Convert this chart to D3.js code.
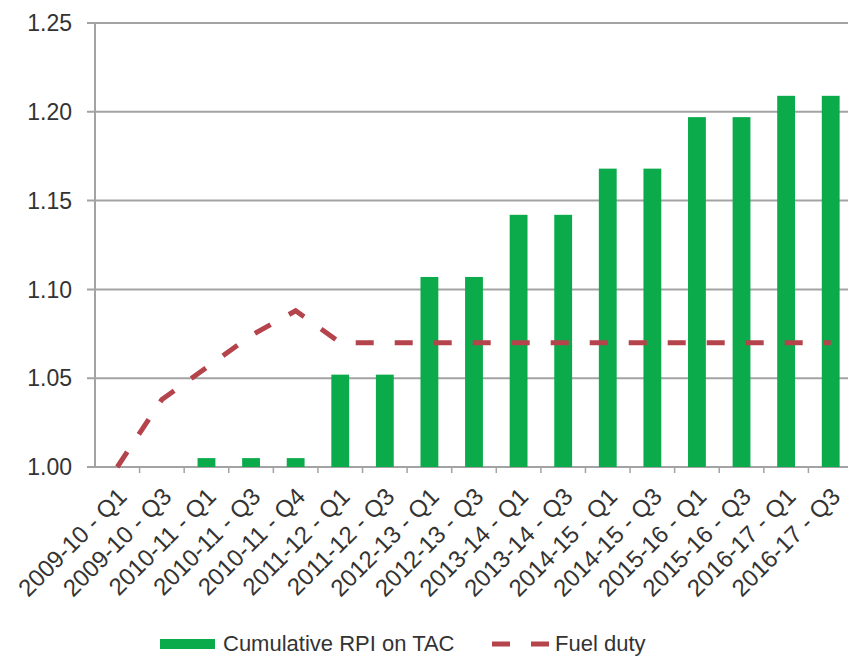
<!DOCTYPE html>
<html>
<head>
<meta charset="utf-8">
<script src="https://cdn.jsdelivr.net/npm/d3@7"></script>
<style>
  body { margin: 0; background: #fff; }
  svg { display: block; font-family: "Liberation Sans", Arial, sans-serif; }
</style>
</head>
<body>
<div id="chart"></div>
<script>
// quarters on the x axis
const quarters = ["2009-10 - Q1", "2009-10 - Q3", "2010-11 - Q1", "2010-11 - Q3", "2010-11 - Q4",
                  "2011-12 - Q1", "2011-12 - Q3", "2012-13 - Q1", "2012-13 - Q3", "2013-14 - Q1",
                  "2013-14 - Q3", "2014-15 - Q1", "2014-15 - Q3", "2015-16 - Q1", "2015-16 - Q3",
                  "2016-17 - Q1", "2016-17 - Q3"];
const rpiTac = [1.000, 1.000, 1.005, 1.005, 1.005, 1.052, 1.052, 1.107, 1.107, 1.142,
                1.142, 1.168, 1.168, 1.197, 1.197, 1.209, 1.209];
const fuelDuty = [1.000, 1.038, 1.056, 1.074, 1.088, 1.070, 1.070, 1.070, 1.070, 1.070,
                  1.070, 1.070, 1.070, 1.070, 1.070, 1.070, 1.070];
const yTicks = [1.00, 1.05, 1.10, 1.15, 1.20, 1.25];

const width = 848, height = 657,
      margin = ({ top: 23, right: -5, bottom: 190, left: 95 });

const svg = d3.select("#chart")
    .append("svg")
    .attr("width", width)
    .attr("height", height);

const x = d3.scaleBand()
    .domain(quarters)
    .range([margin.left, width - margin.right])
    .paddingInner(0.6)
    .paddingOuter(0.3); // keeps each bar centred in its slot

const y = d3.scaleLinear()
    .domain([1.0, 1.25])
    .range([height - margin.bottom, margin.top]);

const grey = "#a3a3a3";
const textCol = "#333";

// gridlines + y labels
svg.append("g")
    .selectAll("line")
    .data(yTicks)
    .join("line")
    .attr("x1", margin.left - 8)
    .attr("x2", width - margin.right)
    .attr("y1", d => y(d))
    .attr("y2", d => y(d))
    .attr("stroke", grey)
    .attr("stroke-width", 2);

svg.append("g")
    .selectAll("text")
    .data(yTicks)
    .join("text")
    .attr("x", 72)
    .attr("y", d => y(d))
    .attr("dy", "0.36em")
    .attr("text-anchor", "end")
    .attr("font-size", 23)
    .attr("fill", textCol)
    .text(d => d.toFixed(2));

// y axis line
svg.append("line")
    .attr("x1", margin.left).attr("x2", margin.left)
    .attr("y1", y(1.25)).attr("y2", y(1.0) + 1)
    .attr("stroke", grey)
    .attr("stroke-width", 2);

// x ticks at band edges
const step = x.step();
svg.append("g")
    .selectAll("line")
    .data(quarters)
    .join("line")
    .attr("x1", d => x(d) + x.bandwidth() / 2 + step / 2)
    .attr("x2", d => x(d) + x.bandwidth() / 2 + step / 2)
    .attr("y1", y(1.0))
    .attr("y2", y(1.0) + 6)
    .attr("stroke", grey)
    .attr("stroke-width", 1.5);

// bars
svg.append("g")
    .selectAll("rect")
    .data(quarters)
    .join("rect")
    .attr("fill", "#0bab4c")
    .attr("x", d => x(d))
    .attr("width", x.bandwidth())
    .attr("y", (d, i) => y(rpiTac[i]))
    .attr("height", (d, i) => y(1.0) - y(rpiTac[i]));

// fuel duty line
const line = d3.line()
    .x((d, i) => x(quarters[i]) + x.bandwidth() / 2)
    .y(d => y(d));

svg.append("path")
    .datum(fuelDuty)
    .attr("fill", "none")
    .attr("stroke", "#b5434b")
    .attr("stroke-width", 5)
    .attr("stroke-dasharray", "18,21")
    .attr("d", line);

// x labels, rotated
svg.append("g")
    .selectAll("text")
    .data(quarters)
    .join("text")
    .attr("transform", d => `translate(${x(d) + x.bandwidth() / 2 + 11},${y(1.0) + 31}) rotate(-45)`)
    .attr("text-anchor", "end")
    .attr("font-size", 24)
    .attr("fill", textCol)
    .text(d => d);

// legend
const legend = svg.append("g");
legend.append("rect")
    .attr("x", 160).attr("y", 639)
    .attr("width", 55).attr("height", 10)
    .attr("fill", "#0bab4c");
legend.append("text")
    .attr("x", 223).attr("y", 651)
    .attr("font-size", 22)
    .attr("fill", textCol)
    .text("Cumulative RPI on TAC");
legend.append("line")
    .attr("x1", 492).attr("x2", 549)
    .attr("y1", 644).attr("y2", 644)
    .attr("stroke", "#b5434b")
    .attr("stroke-width", 5)
    .attr("stroke-dasharray", "18,21");
legend.append("text")
    .attr("x", 555).attr("y", 651)
    .attr("font-size", 22)
    .attr("fill", textCol)
    .text("Fuel duty");
</script>
</body>
</html>
